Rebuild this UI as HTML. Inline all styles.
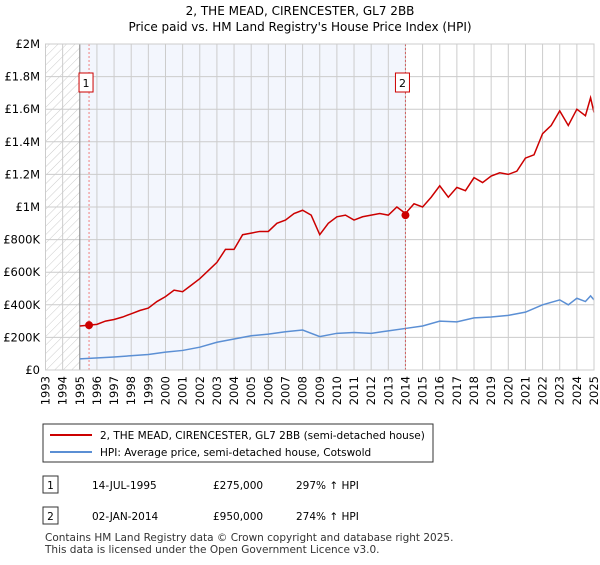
<!DOCTYPE html>
<html><head><meta charset="utf-8"><style>
body{margin:0;background:#fff;font-family:"Liberation Sans","DejaVu Sans",sans-serif;}
svg text{font-family:"DejaVu Sans","Liberation Sans",sans-serif;}
</style></head><body>
<svg width="600" height="560" viewBox="0 0 600 560" xmlns="http://www.w3.org/2000/svg">
<defs><pattern id="hatch" width="6" height="6" patternUnits="userSpaceOnUse" patternTransform="rotate(45)"><line x1="0" y1="0" x2="0" y2="6" stroke="#ccc" stroke-width="1"/></pattern></defs>
<text x="300" y="15" text-anchor="middle" font-size="12">2, THE MEAD, CIRENCESTER, GL7 2BB</text>
<text x="300" y="31" text-anchor="middle" font-size="12">Price paid vs. HM Land Registry's House Price Index (HPI)</text>
<g id="plot"></g>
<rect x="43" y="424" width="390" height="38" fill="#fff" stroke="#333"/>
<line x1="50" y1="435" x2="92" y2="435" stroke="#cc0000" stroke-width="2"/>
<text x="100" y="439" font-size="10.5">2, THE MEAD, CIRENCESTER, GL7 2BB (semi-detached house)</text>
<line x1="50" y1="452" x2="92" y2="452" stroke="#5b8fd4" stroke-width="2"/>
<text x="100" y="456" font-size="10.5">HPI: Average price, semi-detached house, Cotswold</text>
<rect x="43" y="476" width="15" height="17" fill="#fff" stroke="#333"/>
<text x="50.5" y="489" text-anchor="middle" font-size="10.5">1</text>
<text x="92" y="489" font-size="10.5">14-JUL-1995</text>
<text x="213" y="489" font-size="10.5">£275,000</text>
<text x="296" y="489" font-size="10.5">297% ↑ HPI</text>
<rect x="43" y="507" width="15" height="17" fill="#fff" stroke="#333"/>
<text x="50.5" y="520" text-anchor="middle" font-size="10.5">2</text>
<text x="92" y="520" font-size="10.5">02-JAN-2014</text>
<text x="213" y="520" font-size="10.5">£950,000</text>
<text x="296" y="520" font-size="10.5">274% ↑ HPI</text>
<text x="45" y="541" font-size="10.5" fill="#333">Contains HM Land Registry data © Crown copyright and database right 2025.</text>
<text x="45" y="553" font-size="10.5" fill="#333">This data is licensed under the Open Government Licence v3.0.</text>
</svg>
<script>
const priceYears=[1995,1995.54,1996,1996.5,1997,1997.5,1998,1998.5,1999,1999.5,2000,2000.5,2001,2001.5,2002,2002.5,2003,2003.5,2004,2004.5,2005,2005.5,2006,2006.5,2007,2007.5,2008,2008.5,2009,2009.5,2010,2010.5,2011,2011.5,2012,2012.5,2013,2013.5,2014,2014.5,2015,2015.5,2016,2016.5,2017,2017.5,2018,2018.5,2019,2019.5,2020,2020.5,2021,2021.5,2022,2022.5,2023,2023.5,2024,2024.5,2024.8,2025];
const priceValues=[270,275,280,300,310,325,345,365,380,420,450,490,480,520,560,610,660,740,740,830,840,850,850,900,920,960,980,950,830,900,940,950,920,940,950,960,950,1000,960,1020,1000,1060,1130,1060,1120,1100,1180,1150,1190,1210,1200,1220,1300,1320,1450,1500,1590,1500,1600,1560,1670,1580];
const hpiYears=[1995,1997,1999,2000,2001,2002,2003,2004,2005,2006,2007,2008,2009,2010,2011,2012,2013,2014,2015,2016,2017,2018,2019,2020,2021,2022,2023,2023.5,2024,2024.5,2024.8,2025];
const hpiValues=[68,80,95,110,120,140,170,190,210,220,235,245,205,225,230,225,240,255,270,300,295,320,325,335,355,400,430,400,440,420,455,430];
const saleYears=[1995.54,2014.0];
const saleValues=[275,950];
const yTicks=[0,200,400,600,800,1000,1200,1400,1600,1800,2000];
const yTickLabels=["£0","£200K","£400K","£600K","£800K","£1M","£1.2M","£1.4M","£1.6M","£1.8M","£2M"];
const xTicks=[];for(let y=1993;y<=2025;y++)xTicks.push(y);

const X0=45.5,X1=594,Y0=370,Y1=44;
const sx=y=>X0+(y-1993)/(2025-1993)*(X1-X0);
const sy=v=>Y0-v/2000*(Y0-Y1);
const NS="http://www.w3.org/2000/svg";
const g=document.getElementById('plot');
function mk(t,a,p){const e=document.createElementNS(NS,t);for(const k in a)e.setAttribute(k,a[k]);(p||g).appendChild(e);return e;}
let r=mk('rect',{x:sx(1995),y:Y1,width:sx(2014)-sx(1995),height:Y0-Y1,fill:'#f3f6fd'});


r=mk('rect',{x:X0,y:Y1,width:sx(1995)-X0,height:Y0-Y1,fill:'url(#hatch)'});


yTicks.forEach((v,i)=>{
 const l=mk('line',{x1:X0,x2:X1,y1:sy(v),y2:sy(v),stroke:'#ccc'});
 
 
 const t=mk('text',{x:40,y:sy(v)+4,'text-anchor':'end','font-size':'11.5'});t.textContent=yTickLabels[i];
 
 
});
xTicks.forEach(y=>{
 const l=mk('line',{x1:sx(y),x2:sx(y),y1:Y1,y2:Y0,stroke:'#ccc'});
 
 
 const t=mk('text',{x:0,y:0,'text-anchor':'end','font-size':'11.5',transform:`translate(${sx(y)+4},${Y0+6}) rotate(-90)`});t.textContent=y;
 
 
});
let ax=mk('line',{x1:sx(1995),x2:sx(1995),y1:Y1,y2:Y0,stroke:'#888'});


const hp=mk('polyline',{points:hpiYears.map((y,i)=>sx(y)+','+sy(hpiValues[i])).join(' '),fill:'none',stroke:'#5b8fd4','stroke-width':1.5});


const pp=mk('polyline',{points:priceYears.map((y,i)=>sx(y)+','+sy(priceValues[i])).join(' '),fill:'none',stroke:'#cc0000','stroke-width':1.5});


saleYears.forEach((y,i)=>{
 const l=mk('line',{x1:sx(y),x2:sx(y),y1:Y1,y2:Y0,stroke:i?'#d06060':'#f08080','stroke-dasharray':'2,2'});
 
 
 const c=mk('circle',{cx:sx(y),cy:sy(saleValues[i]),r:4,fill:'#cc0000'});
 
 
 const b=mk('rect',{x:sx(y)-10,y:73,width:14,height:19,fill:'#fff',stroke:'#cc0000'});
 
 
 const t=mk('text',{x:sx(y)-3,y:87,'text-anchor':'middle','font-size':'11'});t.textContent=i+1;
 
 
});
let br=mk('rect',{x:X0,y:Y1,width:X1-X0,height:Y0-Y1,fill:'none',stroke:'#ccc'});


</script>
</body></html>
